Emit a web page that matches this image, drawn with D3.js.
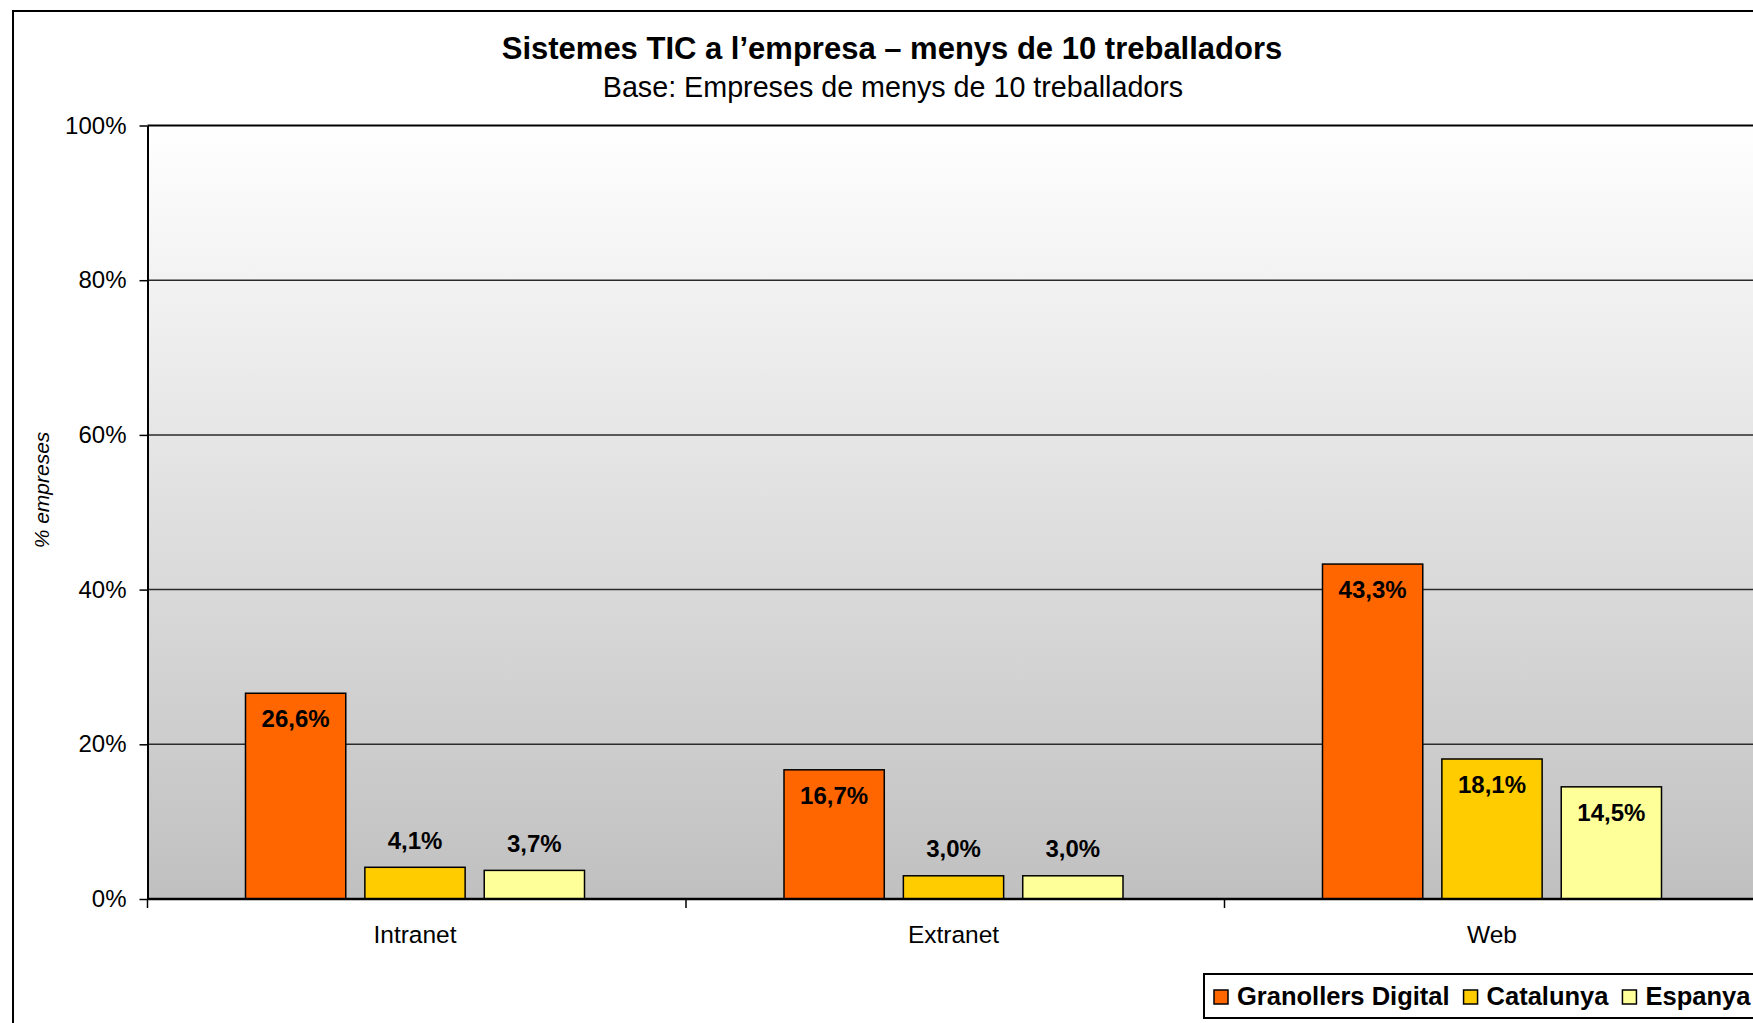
<!DOCTYPE html>
<html>
<head>
<meta charset="utf-8">
<script src="https://cdn.jsdelivr.net/npm/d3@7"></script>
<style>
    body { margin: 0; background: #fff; }
    text { font-family: "Liberation Sans", Arial, sans-serif; fill: #000; }
</style>
</head>
<body>
<svg id="chart" width="1753" height="1023"></svg>
<script>
// données
const categories = ["Intranet", "Extranet", "Web"];
const seriesNames = ["Granollers Digital", "Catalunya", "Espanya"];
const granollers = [26.6, 16.7, 43.3];
const catalunya = [4.1, 3.0, 18.1];
const espanya = [3.7, 3.0, 14.5];
const yTicks = [0, 20, 40, 60, 80, 100];

const colors = ["#FF6600", "#FFCC00", "#FFFF99"];
const seriesValues = [granollers, catalunya, espanya];

const svg = d3.select("#chart");

// zone du graphe
const plot = { left: 147.5, top: 125.5, bottom: 899, band: 538.5 };
const groupOffset = 98;
const groupWidth = 339;

// cadre extérieur
svg.append("rect")
    .attr("x", 13).attr("y", 11)
    .attr("width", 1800).attr("height", 1100)
    .attr("fill", "#fff")
    .attr("stroke", "#000")
    .attr("stroke-width", 2);

// dégradé du fond
const grad = svg.append("defs").append("linearGradient")
    .attr("id", "bg")
    .attr("x1", 0).attr("y1", 0).attr("x2", 0).attr("y2", 1);
grad.append("stop").attr("offset", "0%").attr("stop-color", "#ffffff");
grad.append("stop").attr("offset", "100%").attr("stop-color", "#c0c0c0");

// échelles
const scaleY = d3.scaleLinear()
    .domain([0, 100])
    .range([plot.bottom, plot.top]);

const scaleX = d3.scaleBand()
    .domain(categories)
    .range([plot.left, plot.left + plot.band * categories.length]);

const scaleSeries = d3.scaleBand()
    .domain(seriesNames)
    .range([0, groupWidth])
    .paddingInner(0.16);

const plotRight = scaleX.range()[1];

svg.append("rect")
    .attr("x", plot.left).attr("y", plot.top)
    .attr("width", plotRight - plot.left)
    .attr("height", plot.bottom - plot.top)
    .attr("fill", "url(#bg)");

// lignes horizontales
svg.append("g")
    .selectAll("line")
    .data(yTicks.filter(d => d > 0 && d < 100))
    .enter()
    .append("line")
    .attr("x1", plot.left).attr("x2", plotRight)
    .attr("y1", d => scaleY(d)).attr("y2", d => scaleY(d))
    .attr("stroke", "#2a2a2a")
    .attr("stroke-width", 1.5);

svg.append("line")
    .attr("x1", plot.left).attr("x2", plotRight)
    .attr("y1", scaleY(100)).attr("y2", scaleY(100))
    .attr("stroke", "#000")
    .attr("stroke-width", 2);

// axe Y
const yAxis = svg.append("g")
    .attr("transform", `translate(${plot.left},0)`)
    .call(d3.axisLeft(scaleY)
        .tickValues(yTicks)
        .tickFormat(d => d + "%")
        .tickSize(8)
        .tickSizeOuter(0)
        .tickPadding(13));

yAxis.select(".domain").attr("stroke", "#000").attr("stroke-width", 2);
yAxis.selectAll(".tick line").attr("stroke", "#000").attr("stroke-width", 1.5);
yAxis.selectAll(".tick text")
    .attr("fill", "#000")
    .style("font-size", "24px")
    .style("font-family", "'Liberation Sans', Arial, sans-serif");

svg.append("text")
    .attr("transform", "translate(49,490) rotate(-90)")
    .attr("text-anchor", "middle")
    .style("font-size", "21px")
    .style("font-style", "italic")
    .text("% empreses");

// barres
const groups = svg.append("g")
    .selectAll("g")
    .data(categories)
    .enter()
    .append("g")
    .attr("transform", d => `translate(${scaleX(d) + groupOffset},0)`);

const cells = groups.selectAll("g")
    .data((c, i) => seriesNames.map((s, j) => ({ serie: s, j: j, value: seriesValues[j][i] })))
    .enter()
    .append("g");

cells.append("rect")
    .attr("x", d => scaleSeries(d.serie))
    .attr("y", d => scaleY(d.value))
    .attr("width", scaleSeries.bandwidth())
    .attr("height", d => plot.bottom - scaleY(d.value))
    .attr("fill", d => colors[d.j])
    .attr("stroke", "#000")
    .attr("stroke-width", 1.5);

// étiquettes des valeurs
cells.append("text")
    .attr("x", d => scaleSeries(d.serie) + scaleSeries.bandwidth() / 2)
    .attr("y", d => d.value > 10 ? scaleY(d.value) + 34 : scaleY(d.value) - 18.5)
    .attr("text-anchor", "middle")
    .style("font-size", "24px")
    .style("font-weight", "bold")
    .text(d => d.value.toFixed(1).replace(".", ",") + "%");

// axe X
svg.append("line")
    .attr("x1", plot.left).attr("x2", plotRight)
    .attr("y1", plot.bottom).attr("y2", plot.bottom)
    .attr("stroke", "#000")
    .attr("stroke-width", 2.5);

svg.append("g")
    .selectAll("line")
    .data(categories.concat([null]))
    .enter()
    .append("line")
    .attr("x1", d => d === null ? plotRight : scaleX(d))
    .attr("x2", d => d === null ? plotRight : scaleX(d))
    .attr("y1", plot.bottom).attr("y2", plot.bottom + 9)
    .attr("stroke", "#000")
    .attr("stroke-width", 1.5);

svg.append("g")
    .selectAll("text")
    .data(categories)
    .enter()
    .append("text")
    .attr("x", d => scaleX(d) + groupOffset + groupWidth / 2)
    .attr("y", 943)
    .attr("text-anchor", "middle")
    .style("font-size", "24.5px")
    .text(d => d);

// titres
svg.append("text")
    .attr("x", 892).attr("y", 59)
    .attr("text-anchor", "middle")
    .style("font-size", "31px")
    .style("font-weight", "bold")
    .text("Sistemes TIC a l’empresa – menys de 10 treballadors");

svg.append("text")
    .attr("x", 893).attr("y", 97)
    .attr("text-anchor", "middle")
    .style("font-size", "28.7px")
    .text("Base: Empreses de menys de 10 treballadors");

// légende
const legend = svg.append("g");
legend.append("rect")
    .attr("x", 1204).attr("y", 974)
    .attr("width", 600).attr("height", 44)
    .attr("fill", "#fff")
    .attr("stroke", "#000")
    .attr("stroke-width", 2);

let lx = 1214;
seriesNames.forEach((name, i) => {
    legend.append("rect")
        .attr("x", lx).attr("y", 990)
        .attr("width", 14).attr("height", 14)
        .attr("fill", colors[i])
        .attr("stroke", "#000")
        .attr("stroke-width", 1.5);
    const t = legend.append("text")
        .attr("x", lx + 23).attr("y", 1005)
        .style("font-size", "25.5px")
        .style("font-weight", "bold")
        .text(name);
    lx += 23 + t.node().getComputedTextLength() + 14;
});
</script>
</body>
</html>
